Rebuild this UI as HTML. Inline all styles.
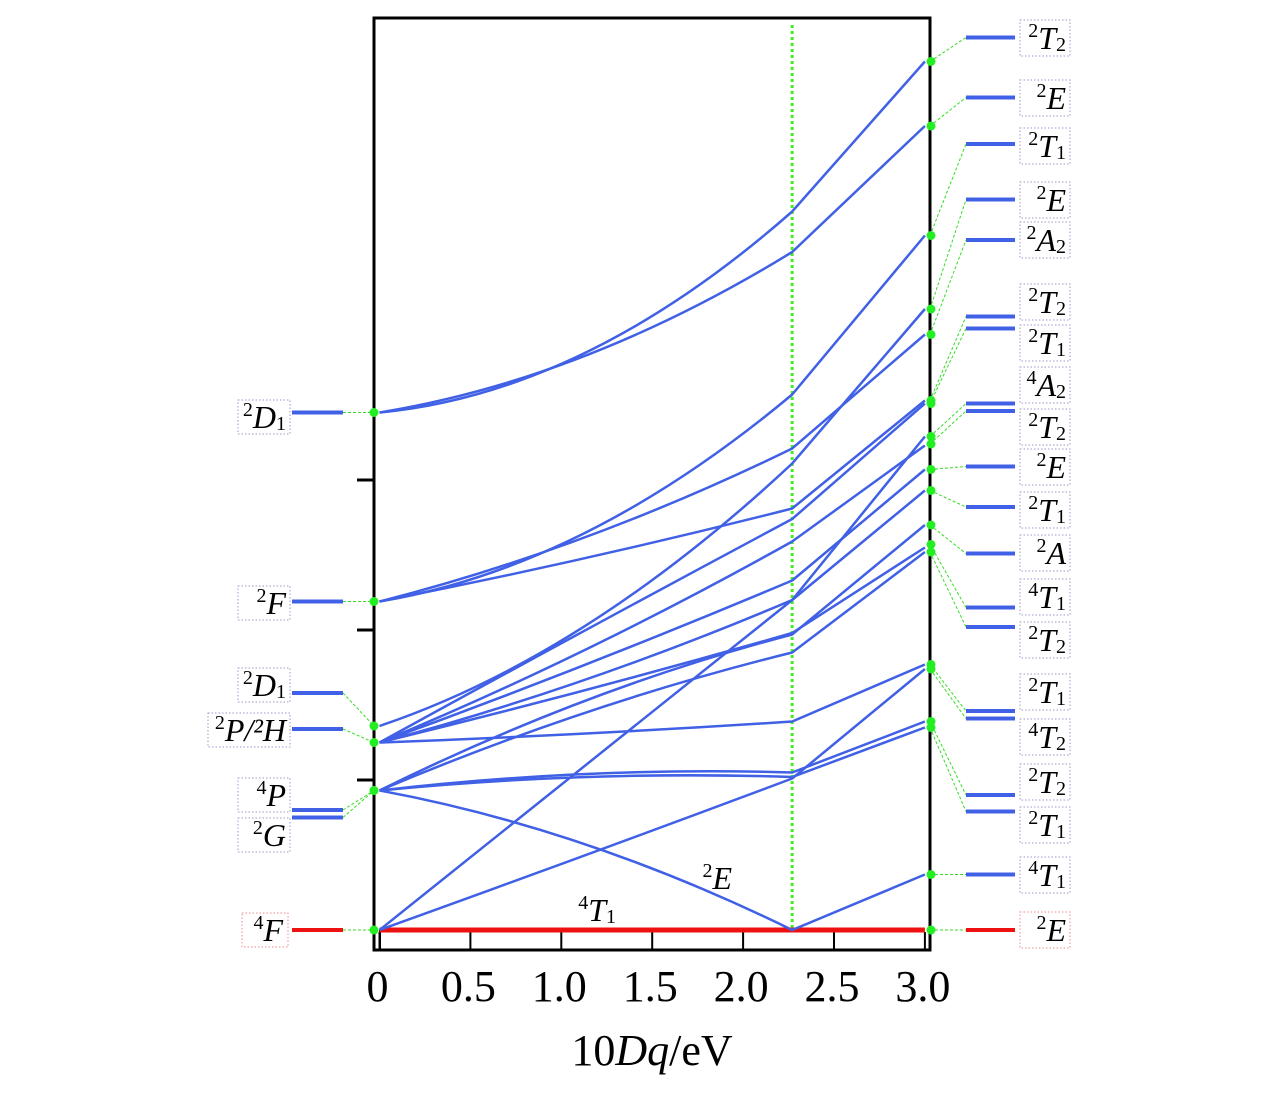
<!DOCTYPE html>
<html><head><meta charset="utf-8"><style>
html,body{margin:0;padding:0;background:#fff;}
svg{display:block;font-family:"Liberation Serif",serif;}
</style></head><body>
<svg id="chart" width="1283" height="1102" viewBox="0 0 1283 1102" xmlns="http://www.w3.org/2000/svg">
<g id="plot"></g>
</svg>
<script>
const xKnee = 2.27;
const xMid = 1.135;
const xEnd = 3.0;
const lineStart = [3.45,3.45,2.19,2.19,2.19,1.36,1.25,1.25,1.25,1.25,1.25,1.25,0.93,0.93,0.93,0.93,0,0,0.93];
const lineMid   = [3.85,3.83,2.65,2.62,2.48,2.03,2.00,1.87,1.77,1.67,1.31,1.60,1.53,1.45,1.04,1.02,0.50,1.10,0.57];
const lineKnee  = [4.79,4.52,3.57,3.21,2.81,3.11,2.74,2.59,2.33,2.20,1.39,1.98,1.97,1.85,1.05,1.02,1.01,2.20,0];
const lineEnd   = [5.79,5.36,4.63,3.97,3.53,4.14,3.51,3.23,3.07,2.93,1.77,2.55,2.70,2.52,1.39,1.35,1.74,3.29,0.37];
const leftLevels = [3.45,2.19,1.58,1.34,0.8,0.75,0];
const leftOrigins = [3.45,2.19,1.36,1.25,0.93,0.93,0];
const leftSup = ["2","2","2","2","4","2","4"];
const leftSym = ["D","F","D","P/²H","P","G","F"];
const leftSub = ["1","","1","","","",""];
const leftLabelY = [417,603,685,730,795,835,930];
const rightLevels = [5.95,5.55,5.24,4.87,4.6,4.09,4.01,3.51,3.46,3.09,2.82,2.51,2.15,2.02,1.46,1.41,0.90,0.79,0.37,0];
const rightEnds = [5.79,5.36,4.63,4.14,3.97,3.53,3.51,3.29,3.24,3.07,2.93,2.70,2.57,2.52,1.77,1.74,1.39,1.35,0.37,0];
const rightSup = ["2","2","2","2","2","2","2","4","2","2","2","2","4","2","2","4","2","2","4","2"];
const rightSym = ["T","E","T","E","A","T","T","A","T","E","T","A","T","T","T","T","T","T","T","E"];
const rightSub = ["2","","1","","2","2","1","2","2","","1","","1","2","1","2","2","1","1",""];
const rightLabelY = [38,98,146,200,240,302,343,385,427,467,510,553,597,640,692,737,782,825,875,930];
const xTicks = [0,0.5,1.0,1.5,2.0,2.5,3.0];
const xTickLabels = ["0","0.5","1.0","1.5","2.0","2.5","3.0"];
const yTicks = [1,2,3];

const X = v => 379.5 + v*181.8;
const Y = e => 930 - e*150;
const NS = "http://www.w3.org/2000/svg";
const g = document.getElementById('plot');
function mk(tag, attrs, parent){const el=document.createElementNS(NS,tag);for(const k in attrs)el.setAttribute(k,attrs[k]);(parent||g).appendChild(el);return el;}

let el = mk('rect',{x:374,y:18,width:556,height:932,fill:'none',stroke:'#000','stroke-width':3});


el = mk('line',{x1:380,y1:930,x2:380,y2:950,stroke:'#000','stroke-width':2});


xTicks.forEach((t,i)=>{
  let tk = mk('line',{x1:X(t),y1:932,x2:X(t),y2:950,stroke:'#000','stroke-width':2});
  
  
  let tl = mk('text',{x:X(t)-2,y:1001,'font-size':44,'text-anchor':'middle'});
  tl.textContent = xTickLabels[i];
  
  
});
yTicks.forEach(t=>{
  let tk = mk('line',{x1:357,y1:Y(t),x2:374,y2:Y(t),stroke:'#000','stroke-width':3});
  
  
});
el = mk('text',{x:652,y:1065,'font-size':44,'text-anchor':'middle'});
el.innerHTML = '10<tspan font-style="italic">Dq</tspan>/eV';



el = mk('line',{x1:X(xKnee),y1:25,x2:X(xKnee),y2:930,stroke:'#44ee22','stroke-width':3,'stroke-dasharray':'3,3'});



el = mk('line',{x1:X(0),y1:Y(0),x2:X(xEnd),y2:Y(0),stroke:'#ee1111','stroke-width':5});



lineStart.forEach((s,i)=>{
  const x0=X(0),y0=Y(s),xm=X(xMid),ym=Y(lineMid[i]),x2=X(xKnee),y2=Y(lineKnee[i]),x3=X(xEnd),y3=Y(lineEnd[i]);
  const cx=2*xm-(x0+x2)/2, cy=2*ym-(y0+y2)/2;
  const p = mk('path',{d:`M${x0},${y0} Q${cx},${cy} ${x2},${y2} L${x3},${y3}`,fill:'none',stroke:'#4060e6','stroke-width':2.5});
  
  
});

function label(x,y,sup,sym,sub,anchor){
  const t = mk('text',{x:x,y:y+11,'font-size':32,'text-anchor':anchor,fill:'#000'});
  t.innerHTML = `<tspan font-size="20" dy="-12">${sup}</tspan><tspan font-style="italic" dy="12">${sym}</tspan>` + (sub?`<tspan font-size="20" dy="2">${sub}</tspan>`:'');
  return t;
}
function box(x,y,w,h,col){return mk('rect',{x:x,y:y,width:w,height:h,fill:'none',stroke:col,'stroke-width':1,'stroke-dasharray':'1.5,2'});}

leftLevels.forEach((lv,i)=>{
  const red = i===leftLevels.length-1;
  const c = red?'#ee1111':'#4060e6';
  let b = mk('line',{x1:292,y1:Y(lv),x2:343,y2:Y(lv),stroke:c,'stroke-width':4});
  
  
  let d = mk('line',{x1:343,y1:Y(lv),x2:374,y2:Y(leftOrigins[i]),stroke:'#33dd22','stroke-width':1,'stroke-dasharray':'3,2'});
  
  
  const wide = leftSym[i].length>2;
  let bx = box(wide?208:(red?242:238), leftLabelY[i]-17, wide?82:(red?46:52), 34, red?'#e88':'#99c');
  
  
  let t = label(red?283:286, leftLabelY[i], leftSup[i], leftSym[i], leftSub[i], 'end');
  
  
});
leftOrigins.forEach(o=>{
  let c = mk('circle',{cx:374,cy:Y(o),r:4.5,fill:'#22ee22'});
  
  
});

rightLevels.forEach((lv,i)=>{
  const red = i===rightLevels.length-1;
  const c = red?'#ee1111':'#4060e6';
  let b = mk('line',{x1:966,y1:Y(lv),x2:1015,y2:Y(lv),stroke:c,'stroke-width':4});
  
  
  let d = mk('line',{x1:930,y1:Y(rightEnds[i]),x2:966,y2:Y(lv),stroke:'#33dd22','stroke-width':1,'stroke-dasharray':'3,2'});
  
  
  let bx = box(1020, rightLabelY[i]-18, 50, 36, red?'#e88':'#99c');
  
  
  let t = label(1066, rightLabelY[i], rightSup[i], rightSym[i], rightSub[i], 'end');
  
  
  let c2 = mk('circle',{cx:931,cy:Y(rightEnds[i]),r:4.5,fill:'#22ee22'});
  
  
});

let t1 = label(732, 878, '2','E','', 'end');


let t2 = label(616, 910, '4','T','1', 'end');


</script>
</body></html>
